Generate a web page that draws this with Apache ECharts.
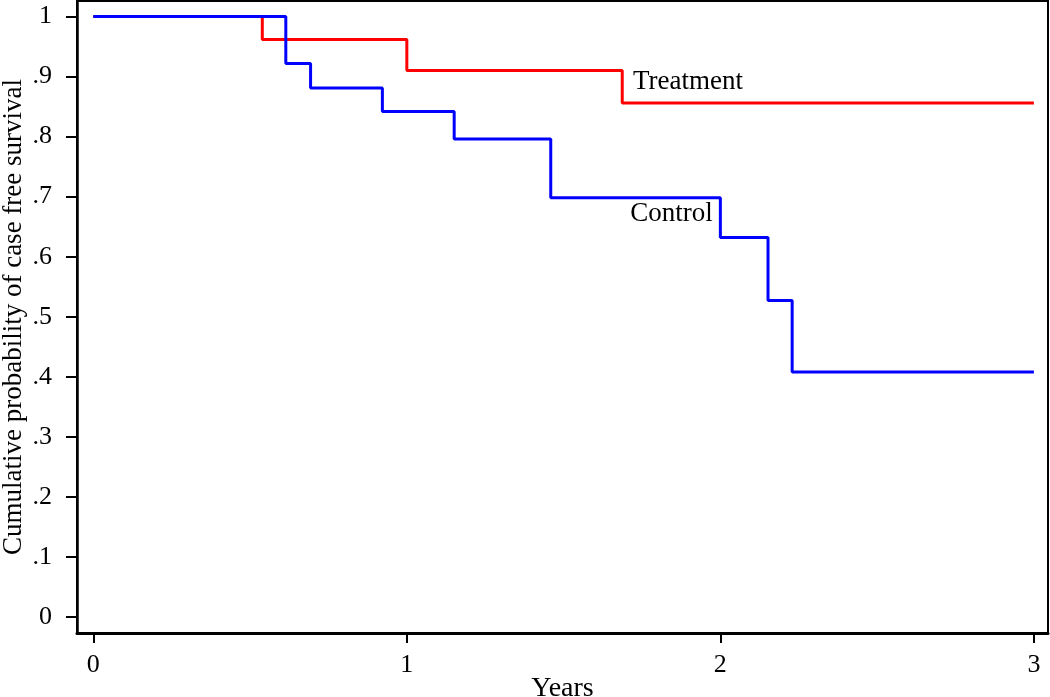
<!DOCTYPE html>
<html>
<head>
<meta charset="utf-8">
<script src="https://cdn.jsdelivr.net/npm/echarts@6/dist/echarts.min.js"></script>
<style>
  html, body { margin: 0; padding: 0; background: #fff; }
  #chart { width: 1050px; height: 697px; }
</style>
</head>
<body>
<div id="chart"></div>
<script>
// Kaplan-Meier step points: [time in years, survival probability]
const treatmentTimes = [0, 0.539, 1.0, 1.687, 3.0];
const treatmentSurv  = [1.0, 0.962, 0.910, 0.856, 0.856];
const controlTimes = [0, 0.614, 0.693, 0.922, 1.151, 1.459, 2.0, 2.152, 2.229, 3.0];
const controlSurv  = [1.0, 0.922, 0.881, 0.842, 0.796, 0.698, 0.632, 0.527, 0.408, 0.408];

const xTickValues = [0, 1, 2, 3];
const xTickLabels = ['0', '1', '2', '3'];
const yTickValues = [0, 0.1, 0.2, 0.3, 0.4, 0.5, 0.6, 0.7, 0.8, 0.9, 1];
const yTickLabels = ['0', '.1', '.2', '.3', '.4', '.5', '.6', '.7', '.8', '.9', '1'];

const seriesNames = ['Treatment', 'Control'];
const labelTreatment = { text: 'Treatment', coord: [1.721, 0.891] };
const labelControl = { text: 'Control', coord: [1.976, 0.671] };

const xTitle = 'Years';
const yTitle = 'Cumulative probability of case free survival';

const font = 'Liberation Serif';

function pairs(xs, ys) { return xs.map((x, i) => [x, ys[i]]); }
function lookup(values, labels) {
  return function (v) {
    for (let i = 0; i < values.length; i++) {
      if (Math.abs(values[i] - v) < 1e-6) return labels[i];
    }
    return '';
  };
}

const chart = echarts.init(document.getElementById('chart'));
chart.setOption({
  animation: false,
  backgroundColor: '#ffffff',
  grid: {
    left: 77, right: 2, top: 1, bottom: 64,
    containLabel: false, outerBoundsMode: 'none',
    show: true, borderColor: '#000', borderWidth: 2, backgroundColor: '#fff'
  },
  xAxis: {
    type: 'value',
    min: -0.052, max: 3.045,
    splitLine: { show: false },
    axisLine: { show: true, onZero: false, lineStyle: { color: '#000', width: 3 } },
    axisTick: { show: true, length: 10, customValues: xTickValues, lineStyle: { color: '#000', width: 2 } },
    axisLabel: {
      customValues: xTickValues, formatter: lookup(xTickValues, xTickLabels),
      margin: 19, color: '#000', fontFamily: font, fontSize: 26
    },
    name: xTitle, nameLocation: 'middle', nameGap: 42, nameMoveOverlap: false,
    nameTextStyle: { color: '#000', fontFamily: font, fontSize: 28 }
  },
  yAxis: {
    type: 'value',
    min: -0.027, max: 1.026,
    splitLine: { show: false },
    axisLine: { show: true, onZero: false, lineStyle: { color: '#000', width: 2.5 } },
    axisTick: { show: true, length: 11, customValues: yTickValues, lineStyle: { color: '#000', width: 2 } },
    axisLabel: {
      customValues: yTickValues, formatter: lookup(yTickValues, yTickLabels),
      margin: 25, color: '#000', fontFamily: font, fontSize: 26
    },
    name: yTitle, nameLocation: 'middle', nameGap: 50, nameRotate: 90, nameMoveOverlap: false,
    nameTextStyle: { color: '#000', fontFamily: font, fontSize: 27 }
  },
  series: [
    {
      name: seriesNames[0], type: 'line', step: 'end', symbol: 'none',
      data: pairs(treatmentTimes, treatmentSurv),
      lineStyle: { color: '#ff0000', width: 3 },
      markPoint: {
        symbol: 'circle', symbolSize: 0,
        data: [{ coord: labelTreatment.coord, value: labelTreatment.text }],
        label: { show: true, position: 'right', distance: 0, formatter: labelTreatment.text,
                 color: '#000', fontFamily: font, fontSize: 27 }
      }
    },
    {
      name: seriesNames[1], type: 'line', step: 'end', symbol: 'none',
      data: pairs(controlTimes, controlSurv),
      lineStyle: { color: '#0000ff', width: 3 },
      markPoint: {
        symbol: 'circle', symbolSize: 0,
        data: [{ coord: labelControl.coord, value: labelControl.text }],
        label: { show: true, position: 'left', distance: 0, formatter: labelControl.text,
                 color: '#000', fontFamily: font, fontSize: 27 }
      }
    }
  ]
});
</script>
</body>
</html>
